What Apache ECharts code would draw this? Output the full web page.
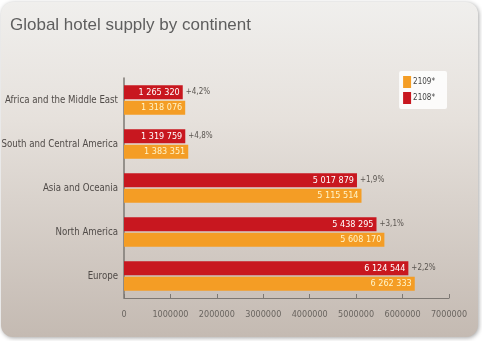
<!DOCTYPE html>
<html>
<head>
<meta charset="utf-8">
<script src="https://cdn.jsdelivr.net/npm/echarts@6/dist/echarts.min.js"></script>
<style>
  html, body { margin: 0; padding: 0; background: #ffffff; }
  #chart { width: 482px; height: 341px; }
</style>
</head>
<body>
<div id="chart"></div>
<script>
// Hotel room supply per continent, 2008 vs 2009
const continents = ['Africa and the Middle East', 'South and Central America', 'Asia and Oceania', 'North America', 'Europe'];
const supply2008 = [1265320, 1319759, 5017879, 5438295, 6124544];
const supply2009 = [1318076, 1383351, 5115514, 5608170, 6262333];
const growthLabels = ['+4,2%', '+4,8%', '+1,9%', '+3,1%', '+2,2%'];
const seriesNames = ['2108*', '2109*'];
const xTicks = [0, 1000000, 2000000, 3000000, 4000000, 5000000, 6000000, 7000000];

const narrow = "'DejaVu Sans', sans-serif";
const narrowWeight = 'condensed';
const fmt = v => String(v).replace(/\B(?=(\d{3})+(?!\d))/g, ' ');

const chart = echarts.init(document.getElementById('chart'), null, { renderer: 'canvas' });
chart.setOption({
  animation: false,
  backgroundColor: '#ffffff',
  graphic: [{
    type: 'rect',
    z: -10,
    shape: { x: 1, y: 2, width: 477, height: 335, r: 12 },
    style: {
      fill: new echarts.graphic.LinearGradient(0, 0, 0, 1, [
        { offset: 0, color: '#f0efed' },
        { offset: 0.35, color: '#e6e1dc' },
        { offset: 1, color: '#c4bab2' }
      ]),
      shadowBlur: 4,
      shadowColor: 'rgba(0,0,0,0.35)',
      shadowOffsetX: 1,
      shadowOffsetY: 1
    }
  }],
  title: {
    text: 'Global hotel supply by continent',
    left: 5,
    top: 12,
    textStyle: { fontFamily: "'Liberation Sans', Arial, sans-serif", fontSize: 17, fontWeight: 'normal', color: '#5e5e5e' }
  },
  legend: {
    data: [seriesNames[1], seriesNames[0]],
    orient: 'vertical',
    right: 35,
    top: 71,
    backgroundColor: 'rgba(255,255,255,0.85)',
    borderRadius: 2,
    padding: [5, 12, 5, 4],
    itemWidth: 8,
    itemHeight: 12,
    itemGap: 4,
    icon: 'rect',
    textStyle: { fontFamily: narrow, fontWeight: narrowWeight, fontSize: 8, color: '#444', padding: [0, 0, 0, -3] }
  },
  grid: { left: 124, right: 33, top: 78, bottom: 43, containLabel: false, outerBoundsMode: 'none' },
  xAxis: {
    type: 'value',
    min: xTicks[0],
    max: xTicks[xTicks.length - 1],
    interval: xTicks[1] - xTicks[0],
    splitLine: { show: false },
    axisLine: { show: true, lineStyle: { color: '#7d7873', width: 1 } },
    axisTick: { show: true, inside: true, length: 4, lineStyle: { color: '#7d7873' } },
    axisLabel: { formatter: v => String(v), fontFamily: narrow, fontWeight: narrowWeight, fontSize: 9, color: '#6a6560', margin: 12 }
  },
  yAxis: {
    type: 'category',
    inverse: true,
    data: continents,
    axisLine: { show: true, lineStyle: { color: '#7d7873', width: 1.5 } },
    axisTick: { show: false },
    axisLabel: { fontFamily: narrow, fontWeight: narrowWeight, fontSize: 9.6, color: '#504b48', margin: 6 }
  },
  series: [
    {
      name: seriesNames[0],
      type: 'bar',
      stack: 'y2008',
      data: supply2008,
      barWidth: 14,
      barGap: '12%',
      itemStyle: { color: '#c8171f' },
      label: {
        show: true,
        position: 'insideRight',
        distance: 3,
        formatter: p => fmt(p.value),
        fontFamily: narrow,
        fontWeight: narrowWeight,
        fontSize: 9,
        color: '#ffffff'
      }
    },
    {
      // zero-length cap stacked on the 2008 bar, carrying the growth label
      name: 'growth',
      type: 'bar',
      stack: 'y2008',
      data: supply2008.map(() => 0),
      barWidth: 14,
      itemStyle: { color: 'transparent' },
      label: {
        show: true,
        position: 'right',
        distance: 3,
        formatter: p => growthLabels[p.dataIndex],
        fontFamily: narrow,
        fontWeight: narrowWeight,
        fontSize: 8,
        color: '#5a5550'
      }
    },
    {
      name: seriesNames[1],
      type: 'bar',
      data: supply2009,
      barWidth: 14,
      barGap: '12%',
      itemStyle: { color: '#f49d25' },
      label: {
        show: true,
        position: 'insideRight',
        distance: 3,
        formatter: p => fmt(p.value),
        fontFamily: narrow,
        fontWeight: narrowWeight,
        fontSize: 9,
        color: '#fff4c8'
      }
    }
  ]
});
</script>
</body>
</html>
